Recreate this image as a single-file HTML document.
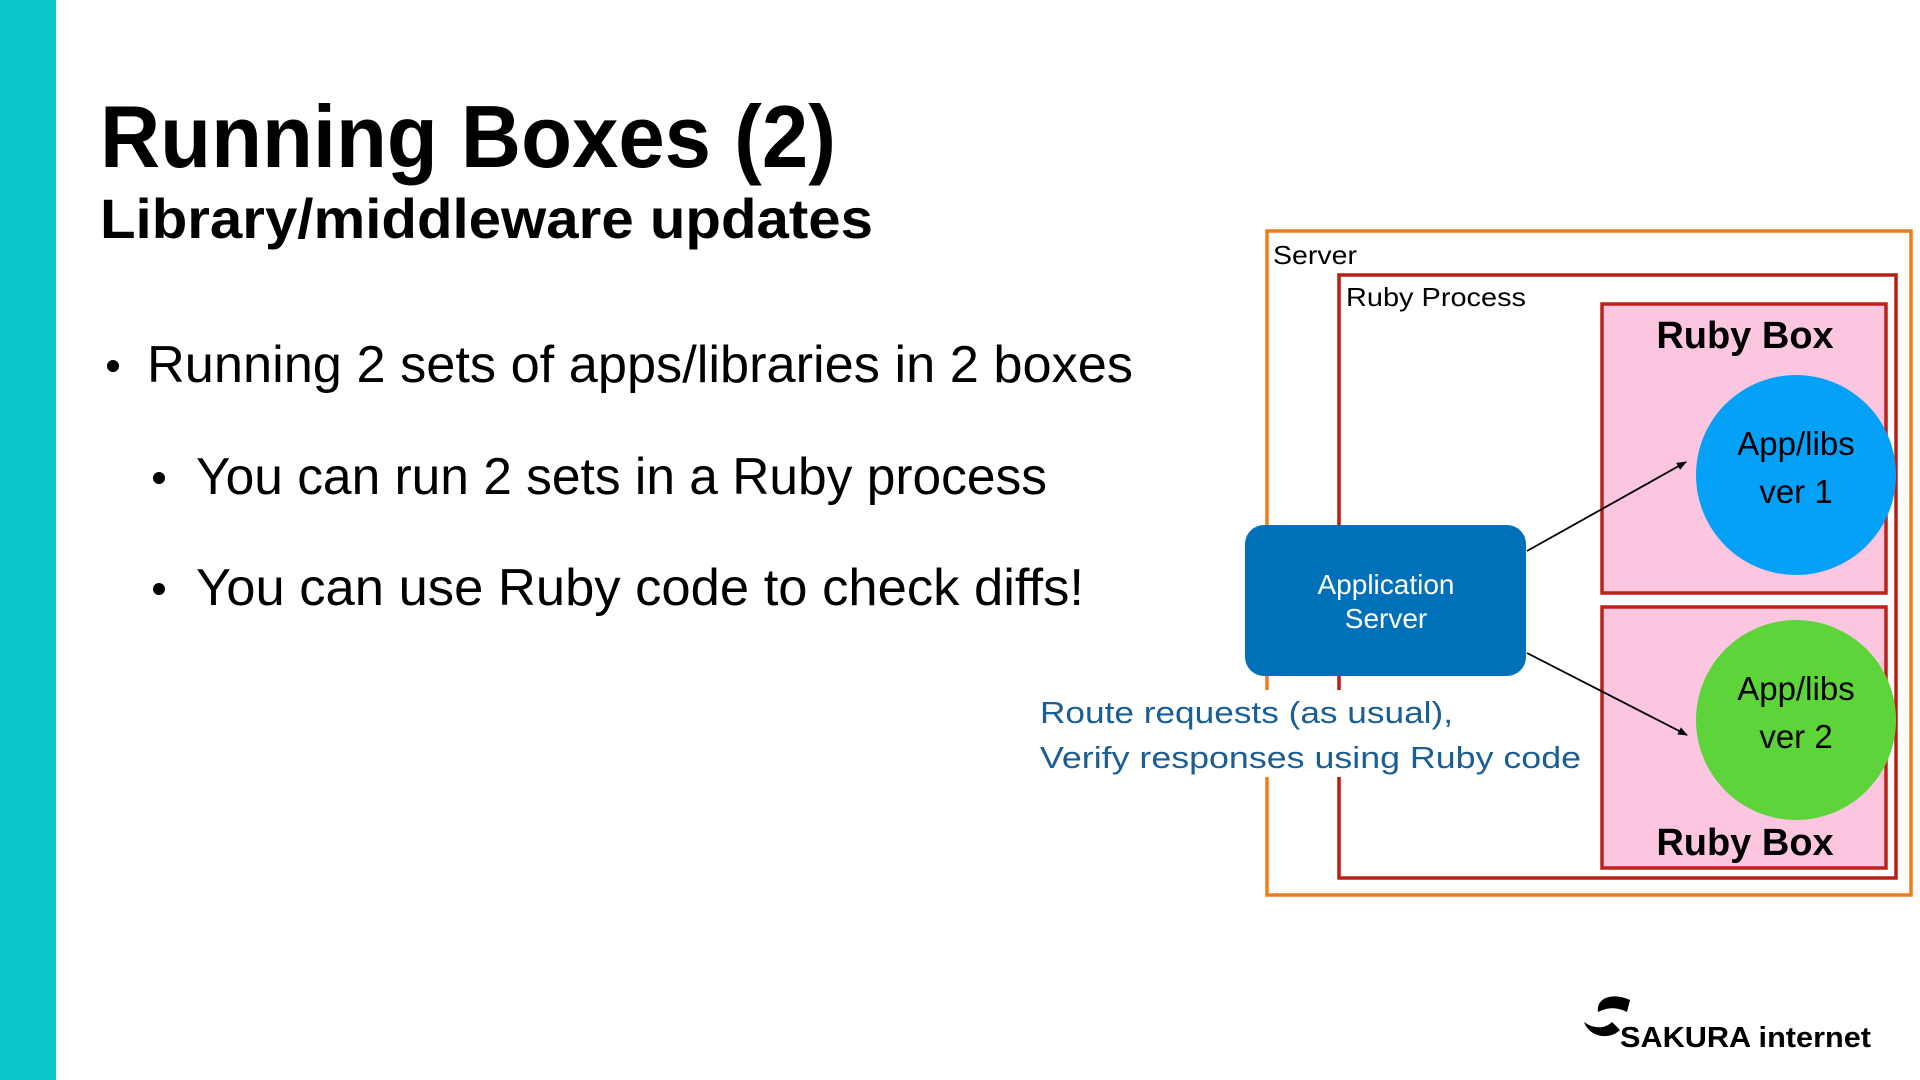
<!DOCTYPE html>
<html><head><meta charset="utf-8"><style>html,body{margin:0;padding:0;background:#fff}svg{display:block}</style></head>
<body>
<svg width="1920" height="1080" viewBox="0 0 1920 1080" xmlns="http://www.w3.org/2000/svg" font-family="Liberation Sans, sans-serif">
<rect width="1920" height="1080" fill="#fff"/>
<rect x="0" y="0" width="56" height="1080" fill="#0bc6c8"/>
<text x="100" y="167" font-size="88" font-weight="bold" fill="#000" textLength="736" lengthAdjust="spacingAndGlyphs">Running Boxes (2)</text>
<text x="100" y="238" font-size="56" font-weight="bold" fill="#000" textLength="773" lengthAdjust="spacingAndGlyphs">Library/middleware updates</text>
<circle cx="113" cy="366" r="6" fill="#000"/>
<text x="147" y="382" font-size="52" fill="#000" textLength="986" lengthAdjust="spacingAndGlyphs">Running 2 sets of apps/libraries in 2 boxes</text>
<circle cx="159" cy="478" r="6" fill="#000"/>
<text x="196" y="494" font-size="52" fill="#000" textLength="851" lengthAdjust="spacingAndGlyphs">You can run 2 sets in a Ruby process</text>
<circle cx="159" cy="589" r="6" fill="#000"/>
<text x="196" y="605" font-size="52" fill="#000" textLength="888" lengthAdjust="spacingAndGlyphs">You can use Ruby code to check diffs!</text>

<rect x="1267" y="231" width="644" height="664" fill="none" stroke="#ee7d1a" stroke-width="3.5"/>
<text x="1273" y="264" font-size="26" fill="#000" textLength="84" lengthAdjust="spacingAndGlyphs">Server</text>
<rect x="1339" y="275" width="557" height="603" fill="none" stroke="#b81e12" stroke-width="3.5"/>
<text x="1346" y="306" font-size="26" fill="#000" textLength="180" lengthAdjust="spacingAndGlyphs">Ruby Process</text>
<rect x="1602" y="304" width="284" height="289" fill="#fcc6e0" stroke="#c0201a" stroke-width="3.5"/>
<rect x="1602" y="607" width="284" height="261" fill="#fcc6e0" stroke="#c0201a" stroke-width="3.5"/>
<text x="1745" y="348" font-size="38" font-weight="bold" text-anchor="middle" fill="#000">Ruby Box</text>
<text x="1745" y="855" font-size="38" font-weight="bold" text-anchor="middle" fill="#000">Ruby Box</text>
<circle cx="1796" cy="475" r="100" fill="#05a1f7"/>
<circle cx="1796" cy="720" r="100" fill="#5cd43a"/>
<text x="1796" y="455" font-size="33" text-anchor="middle" fill="#000">App/libs</text>
<text x="1796" y="503" font-size="33" text-anchor="middle" fill="#000">ver 1</text>
<text x="1796" y="700" font-size="33" text-anchor="middle" fill="#000">App/libs</text>
<text x="1796" y="748" font-size="33" text-anchor="middle" fill="#000">ver 2</text>

<rect x="1036" y="690" width="548" height="87" fill="#fff"/>
<text x="1040" y="723" font-size="31" fill="#1a5e96" textLength="413" lengthAdjust="spacingAndGlyphs">Route requests (as usual),</text>
<text x="1040" y="768" font-size="31" fill="#1a5e96" textLength="541" lengthAdjust="spacingAndGlyphs">Verify responses using Ruby code</text>

<rect x="1245" y="525" width="281" height="151" rx="19" fill="#0070b8"/>
<text x="1386" y="594" font-size="28" text-anchor="middle" fill="#fff">Application</text>
<text x="1386" y="628" font-size="28" text-anchor="middle" fill="#fff">Server</text>

<defs><marker id="a" markerWidth="10" markerHeight="8" refX="9" refY="4" orient="auto" markerUnits="userSpaceOnUse"><path d="M0,0 L10,4 L0,8 z" fill="#000"/></marker></defs>
<line x1="1527" y1="551" x2="1686" y2="462" stroke="#000" stroke-width="1.8" marker-end="url(#a)"/>
<line x1="1527" y1="653" x2="1687" y2="735" stroke="#000" stroke-width="1.8" marker-end="url(#a)"/>

<path d="M1598,1012 C1596,998 1612,992 1630,1000 L1627,1012 C1615,1006 1606,1008 1598,1012 z" fill="#000"/>
<path d="M1584,1022 C1590,1038 1610,1040 1620,1030 L1612,1022 C1604,1030 1592,1028 1584,1022 z" fill="#000"/>
<text x="1620" y="1047" font-size="29" font-weight="bold" fill="#000" textLength="251" lengthAdjust="spacingAndGlyphs">SAKURA internet</text>
</svg>
</body></html>
